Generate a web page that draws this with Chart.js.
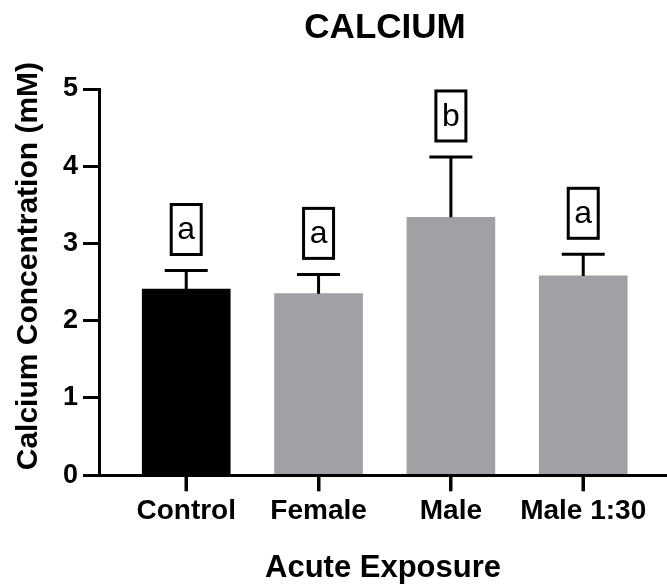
<!DOCTYPE html>
<html>
<head>
<meta charset="utf-8">
<script src="https://cdn.jsdelivr.net/npm/chart.js@4/dist/chart.umd.min.js"></script>
<style>
  html, body { margin: 0; padding: 0; background: #ffffff; }
  #wrap { width: 667px; height: 588px; }
</style>
</head>
<body>
<div id="wrap"><canvas id="c" width="667" height="588"></canvas></div>
<script>
// Calcium concentration (mM) after acute exposure, mean + SEM
const categories = ['Control', 'Female', 'Male', 'Male 1:30'];
const meanCalcium = [2.41, 2.35, 3.34, 2.58];
const semCalcium = [0.24, 0.25, 0.78, 0.28];
const groupLetters = ['a', 'a', 'b', 'a'];
const barColors = ['#000000', '#a1a1a5', '#a1a1a5', '#a1a1a5'];
const yTickStep = 1;

const FONT = '"Liberation Sans", Arial, Helvetica, sans-serif';

// Upper SEM whiskers and the statistical-group letter boxes
const errorBarsAndLetters = {
  id: 'errorBarsAndLetters',
  afterDatasetsDraw(chart) {
    const ctx = chart.ctx;
    const meta = chart.getDatasetMeta(0);
    const y = chart.scales.y;
    ctx.save();
    ctx.strokeStyle = '#000000';
    ctx.fillStyle = '#000000';
    ctx.lineWidth = 3;
    ctx.lineCap = 'butt';
    meta.data.forEach((bar, i) => {
      const top = y.getPixelForValue(meanCalcium[i] + semCalcium[i]);
      ctx.beginPath();
      ctx.moveTo(bar.x, bar.y);
      ctx.lineTo(bar.x, top);
      ctx.moveTo(bar.x - 21.5, top);
      ctx.lineTo(bar.x + 21.5, top);
      ctx.stroke();

      const bw = 30, bh = 50;
      const boxBottom = top - 16;
      ctx.strokeRect(bar.x - bw / 2, boxBottom - bh, bw, bh);
      ctx.font = '32px ' + FONT;
      ctx.textAlign = 'center';
      ctx.textBaseline = 'middle';
      ctx.fillText(groupLetters[i], bar.x, boxBottom - bh / 2 + 1);
    });
    ctx.restore();
  }
};

// Heading, rotated y-axis caption and category tick marks
const captions = {
  id: 'captions',
  afterDraw(chart) {
    const ctx = chart.ctx;
    const a = chart.chartArea;
    const meta = chart.getDatasetMeta(0);
    ctx.save();
    ctx.fillStyle = '#000000';
    meta.data.forEach((bar) => {
      ctx.fillRect(Math.round(bar.x) - 1.5, a.bottom, 3, 16);
    });
    ctx.font = 'bold 35px ' + FONT;
    ctx.textAlign = 'center';
    ctx.textBaseline = 'alphabetic';
    ctx.fillText('CALCIUM', (a.left + a.right) / 2 + 2, 38);
    ctx.restore();

    ctx.save();
    ctx.fillStyle = '#000000';
    ctx.translate(29, (a.top + a.bottom) / 2 - 16);
    ctx.rotate(-Math.PI / 2);
    ctx.font = 'bold 30px ' + FONT;
    ctx.textAlign = 'center';
    ctx.textBaseline = 'middle';
    ctx.fillText('Calcium Concentration (mM)', 0, 0);
    ctx.restore();
  }
};

new Chart(document.getElementById('c'), {
  type: 'bar',
  data: {
    datasets: [{
      data: meanCalcium.map((v, i) => ({ x: i, y: v })),
      backgroundColor: barColors,
      borderWidth: 0,
      barThickness: 88
    }]
  },
  options: {
    responsive: false,
    animation: false,
    devicePixelRatio: 1,
    layout: { padding: { top: 89, left: 58, right: 0, bottom: 0 } },
    plugins: {
      legend: { display: false },
      title: { display: false },
      tooltip: { enabled: false }
    },
    scales: {
      x: {
        type: 'linear',
        offset: false,
        min: -0.659,
        max: 3.633,
        afterBuildTicks(scale) {
          scale.ticks = categories.map((_, i) => ({ value: i }));
        },
        ticks: {
          autoSkip: false,
          maxRotation: 0,
          padding: 3,
          color: '#000000',
          font: { family: FONT, size: 28, weight: 'bold' },
          callback: (v) => categories[v]
        },
        grid: {
          offset: false,
          drawOnChartArea: false,
          tickLength: 16,
          tickWidth: 3,
          tickColor: '#000000'
        },
        border: { display: true, width: 3, color: '#000000', z: 1 },
        title: {
          display: true,
          text: 'Acute Exposure',
          color: '#000000',
          font: { family: FONT, size: 31, weight: 'bold' },
          padding: { top: 19, bottom: 1 }
        }
      },
      y: {
        min: 0,
        max: 5,
        ticks: {
          stepSize: yTickStep,
          padding: 5,
          color: '#000000',
          font: { family: FONT, size: 27, weight: 'bold' }
        },
        grid: {
          drawOnChartArea: false,
          tickLength: 16,
          tickWidth: 3,
          tickColor: '#000000'
        },
        border: { display: true, width: 3, color: '#000000', z: 1 }
      }
    }
  },
  plugins: [errorBarsAndLetters, captions]
});
</script>
</body>
</html>
